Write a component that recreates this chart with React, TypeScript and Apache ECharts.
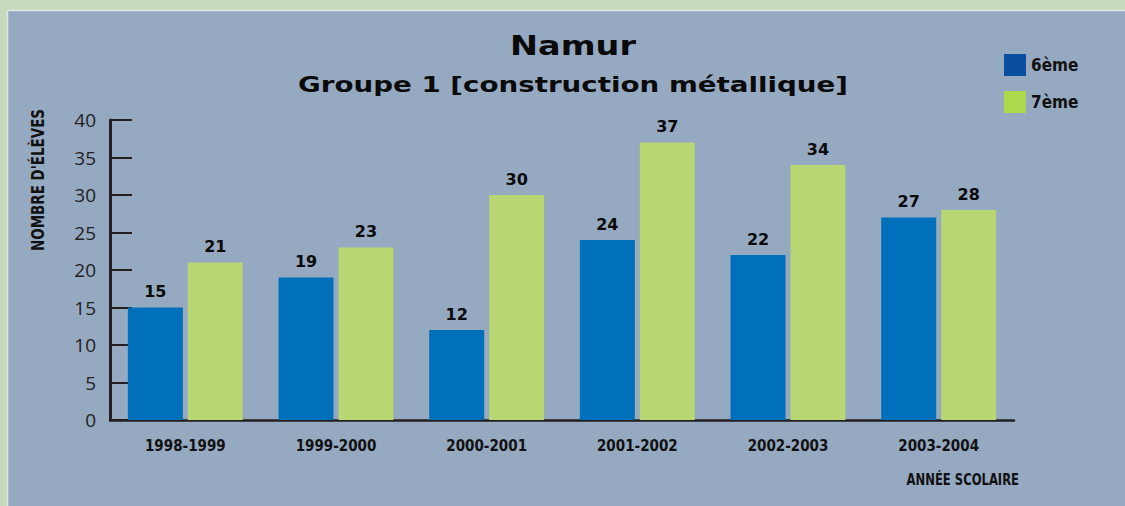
import React, { useEffect, useRef } from "react";
import * as echarts from "echarts";

const categories = ["1998-1999", "1999-2000", "2000-2001", "2001-2002", "2002-2003", "2003-2004"];
const sixieme = [15, 19, 12, 24, 22, 27];
const septieme = [21, 23, 30, 37, 34, 28];
const seriesNames = ["6ème", "7ème"];
const titleText = "Namur";
const subtitleText = "Groupe 1 [construction métallique]";
const yAxisName = "NOMBRE D'ÉLÈVES";
const xAxisName = "ANNÉE SCOLAIRE";

const NARROW = "'DejaVu Sans Condensed', sans-serif";
const WIDE = "'DejaVu Sans', sans-serif";

export default function App() {
  const ref = useRef<HTMLDivElement>(null);
  useEffect(() => {
    document.body.style.margin = "0";
    const chart = echarts.init(ref.current!, undefined, { renderer: "svg" });
    chart.setOption({
      animation: false,
      backgroundColor: "#c7dbbc",
      graphic: [
        {
          type: "rect",
          z: -10,
          silent: true,
          shape: { x: 7.5, y: 10.5, width: 1200, height: 600 },
          style: { fill: "#95a9c1", stroke: "#dfe7e6", lineWidth: 1.5 },
        },
        {
          type: "text",
          x: 573,
          y: 46,
          scaleX: 1.24,
          style: {
            text: titleText,
            font: `bold 27px ${WIDE}`,
            fill: "#0a0a0a",
            textAlign: "center",
            textVerticalAlign: "middle",
          },
        },
        {
          type: "text",
          x: 573,
          y: 85,
          scaleX: 1.32,
          style: {
            text: subtitleText,
            font: `bold 21px ${WIDE}`,
            fill: "#0a0a0a",
            textAlign: "center",
            textVerticalAlign: "middle",
          },
        },
        {
          type: "text",
          x: 38,
          y: 180,
          rotation: Math.PI / 2,
          scaleX: 0.88,
          style: {
            text: yAxisName,
            font: `bold 17px ${NARROW}`,
            fill: "#111",
            textAlign: "center",
            textVerticalAlign: "middle",
          },
        },
        {
          type: "text",
          x: 1019,
          y: 480,
          scaleX: 0.86,
          style: {
            text: xAxisName,
            font: `bold 15px ${NARROW}`,
            fill: "#111",
            textAlign: "right",
            textVerticalAlign: "middle",
          },
        },
      ],
      legend: {
        orient: "vertical",
        left: 999,
        top: 49,
        itemWidth: 22,
        itemHeight: 22,
        itemGap: 15,
        icon: "rect",
        textStyle: { fontFamily: NARROW, fontWeight: "bold", fontSize: 17, color: "#111" },
        data: [
          { name: seriesNames[0], itemStyle: { color: "#0a4f9f" } },
          { name: seriesNames[1], itemStyle: { color: "#acd84e" } },
        ],
      },
      grid: { left: 110, right: 111, top: 120, bottom: 86 },
      xAxis: {
        type: "category",
        data: categories,
        axisLine: { lineStyle: { color: "#231f20", width: 2.5 } },
        axisTick: { inside: true, length: 7, lineStyle: { color: "#231f20", width: 4 } },
        axisLabel: {
          margin: 18,
          fontFamily: NARROW,
          fontWeight: "bold",
          fontSize: 15,
          color: "#111",
        },
      },
      yAxis: {
        type: "value",
        min: 0,
        max: 40,
        interval: 5,
        splitLine: { show: false },
        axisLine: { show: true, lineStyle: { color: "#231f20", width: 3 } },
        axisTick: { show: true, inside: true, length: 22, lineStyle: { color: "#231f20", width: 2 } },
        axisLabel: {
          margin: 14,
          fontFamily: "'Open Sans', sans-serif",
          fontSize: 19,
          color: "#222",
        },
      },
      series: [
        {
          name: seriesNames[0],
          type: "bar",
          data: sixieme,
          barWidth: 55,
          barGap: "9%",
          itemStyle: { color: "#0070ba" },
          label: {
            show: true,
            position: "top",
            distance: 8,
            fontFamily: WIDE,
            fontWeight: "bold",
            fontSize: 16,
            color: "#0a0a0a",
          },
        },
        {
          name: seriesNames[1],
          type: "bar",
          data: septieme,
          barWidth: 55,
          barGap: "9%",
          itemStyle: { color: "#b8d671" },
          label: {
            show: true,
            position: "top",
            distance: 8,
            fontFamily: WIDE,
            fontWeight: "bold",
            fontSize: 16,
            color: "#0a0a0a",
          },
        },
      ],
    });
    return () => chart.dispose();
  }, []);
  return <div ref={ref} style={{ width: 1125, height: 506 }} />;
}
